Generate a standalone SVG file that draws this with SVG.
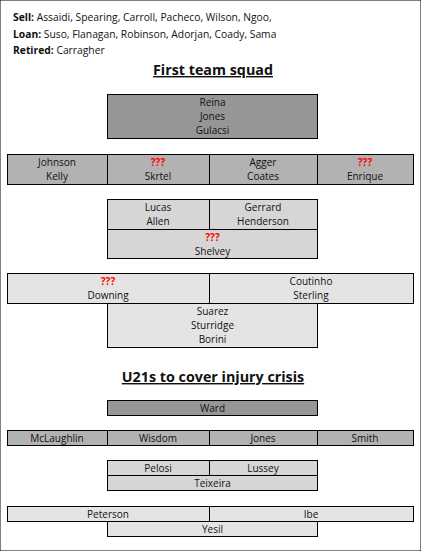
<svg xmlns="http://www.w3.org/2000/svg" width="421" height="551" viewBox="0 0 421 551">
<style>
text{font-family:"Open Sans","Liberation Sans",sans-serif;font-size:10px;fill:#111;}
.n{font-size:10.3px;}
.c{text-anchor:middle;}
.b{font-weight:bold;}
.q{fill:#ff0000;font-weight:bold;}
.t{font-size:14.3px;font-weight:bold;text-anchor:middle;text-decoration:underline;}
rect{stroke:#000;stroke-width:1;}
.g1{fill:#969696;}
.g2{fill:#b2b2b2;}
.g3{fill:#d6d6d6;}
.g4{fill:#e4e4e4;}
</style>
<rect x="0" y="0" width="421" height="551" fill="#fff" stroke="none"/>
<g id="notes">
<text class="n" x="13" y="21"><tspan class="b">Sell:</tspan> Assaidi, Spearing, Carroll, Pacheco, Wilson, Ngoo,</text>
<text class="n" x="13" y="38"><tspan class="b">Loan:</tspan> Suso, Flanagan, Robinson, Adorjan, Coady,  Sama</text>
<text class="n" x="13" y="54"><tspan class="b">Retired:</tspan> Carragher</text>
</g>
<text class="t" x="213" y="75">First team squad</text>
<g id="gk">
<rect class="g1" x="107.5" y="94.5" width="210" height="44"/>
<text class="c" x="212.5" y="106">Reina</text>
<text class="c" x="212.5" y="120">Jones</text>
<text class="c" x="212.5" y="134">Gulacsi</text>
</g>
<g id="def">
<rect class="g2" x="7.5" y="154.5" width="100" height="30"/>
<rect class="g2" x="107.5" y="154.5" width="102" height="30"/>
<rect class="g2" x="209.5" y="154.5" width="108" height="30"/>
<rect class="g2" x="317.5" y="154.5" width="96" height="30"/>
<text class="c" x="57" y="166">Johnson</text>
<text class="c" x="57" y="180">Kelly</text>
<text class="c q" x="158" y="166">???</text>
<text class="c" x="158" y="180">Skrtel</text>
<text class="c" x="263" y="166">Agger</text>
<text class="c" x="263" y="180">Coates</text>
<text class="c q" x="365" y="166">???</text>
<text class="c" x="365" y="180">Enrique</text>
</g>
<g id="mid">
<rect class="g3" x="107.5" y="199.5" width="102" height="30"/>
<rect class="g3" x="209.5" y="199.5" width="108" height="30"/>
<rect class="g3" x="107.5" y="229.5" width="210" height="29"/>
<text class="c" x="158" y="211">Lucas</text>
<text class="c" x="158" y="225">Allen</text>
<text class="c" x="263" y="211">Gerrard</text>
<text class="c" x="263" y="225">Henderson</text>
<text class="c q" x="212.5" y="241">???</text>
<text class="c" x="212.5" y="255">Shelvey</text>
</g>
<g id="wing">
<rect class="g4" x="7.5" y="273.5" width="202" height="30"/>
<rect class="g4" x="209.5" y="273.5" width="204" height="30"/>
<text class="c q" x="108" y="285">???</text>
<text class="c" x="108" y="299">Downing</text>
<text class="c" x="311" y="285">Coutinho</text>
<text class="c" x="311" y="299">Sterling</text>
</g>
<g id="fwd">
<rect class="g4" x="107.5" y="303.5" width="210" height="44"/>
<text class="c" x="212.5" y="315">Suarez</text>
<text class="c" x="212.5" y="329">Sturridge</text>
<text class="c" x="212.5" y="343">Borini</text>
</g>
<text class="t" x="213" y="382">U21s to cover injury crisis</text>
<g id="u21gk">
<rect class="g1" x="107.5" y="400.5" width="210" height="15"/>
<text class="c" x="212.5" y="412">Ward</text>
</g>
<g id="u21def">
<rect class="g2" x="7.5" y="430.5" width="100" height="15"/>
<rect class="g2" x="107.5" y="430.5" width="102" height="15"/>
<rect class="g2" x="209.5" y="430.5" width="108" height="15"/>
<rect class="g2" x="317.5" y="430.5" width="96" height="15"/>
<text class="c" x="57" y="442">McLaughlin</text>
<text class="c" x="158" y="442">Wisdom</text>
<text class="c" x="263" y="442">Jones</text>
<text class="c" x="365" y="442">Smith</text>
</g>
<g id="u21mid">
<rect class="g3" x="107.5" y="460.5" width="102" height="15"/>
<rect class="g3" x="209.5" y="460.5" width="108" height="15"/>
<rect class="g3" x="107.5" y="475.5" width="210" height="15"/>
<text class="c" x="158" y="472">Pelosi</text>
<text class="c" x="263" y="472">Lussey</text>
<text class="c" x="212.5" y="487">Teixeira</text>
</g>
<g id="u21wing">
<rect class="g4" x="7.5" y="506.5" width="202" height="15"/>
<rect class="g4" x="209.5" y="506.5" width="204" height="15"/>
<text class="c" x="108" y="518">Peterson</text>
<text class="c" x="311" y="518">Ibe</text>
</g>
<g id="u21fwd">
<rect class="g4" x="107.5" y="521.5" width="210" height="15"/>
<text class="c" x="212.5" y="533">Yesil</text>
</g>
<g id="connectors"></g>
</svg>
